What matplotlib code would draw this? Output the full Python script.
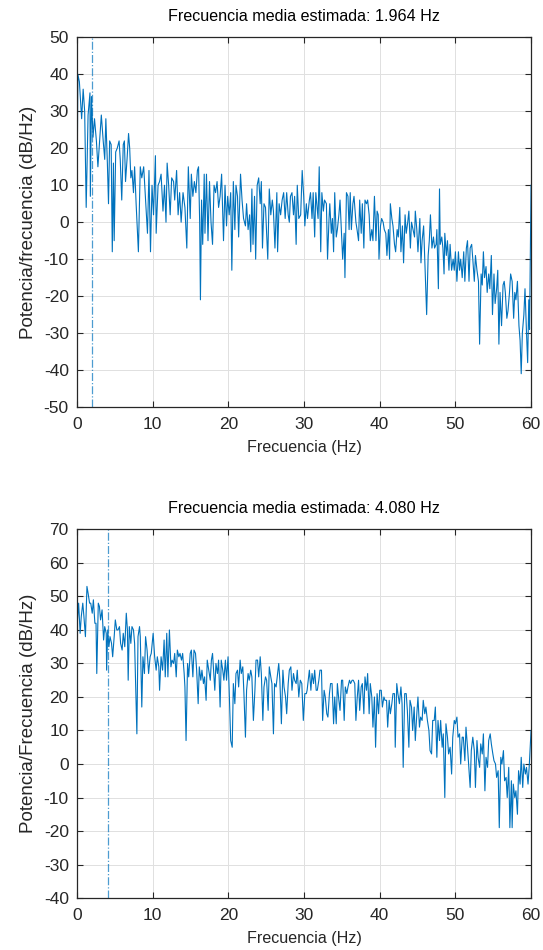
import matplotlib
matplotlib.use("Agg")
import matplotlib.pyplot as plt

# Panel 1: PSD estimada (dB/Hz)
top_freq = [0, 0.1, 0.3, 0.6, 0.8, 1.0, 1.2, 1.45, 1.7, 1.75, 1.9, 2.1, 2.3, 2.55, 2.75,
            3.0, 3.2, 3.45, 3.65, 3.8, 4.0, 4.15, 4.3, 4.5, 4.65, 4.8, 4.9, 5.1, 5.3, 5.55,
            5.7, 5.9, 6.1, 6.25, 6.4, 6.6, 6.8, 6.95, 7.1, 7.25, 7.45, 7.6, 7.8, 8.1, 8.35,
            8.55, 8.8, 9.05, 9.3, 9.5, 9.7, 9.9, 10.1, 10.35, 10.45, 10.7, 10.9, 11.1, 11.35, 11.55,
            11.75, 11.9, 12.1, 12.3, 12.5, 12.75, 12.9, 13.15, 13.35, 13.55, 13.75, 14.0, 14.25,
            14.5, 14.7, 14.95, 15.1, 15.3, 15.5, 15.7, 15.9, 16.05, 16.2, 16.3, 16.45, 16.6, 16.8, 16.9,
            17.1, 17.3, 17.5, 17.7, 17.9, 18.1, 18.3, 18.5, 18.7, 18.9, 19.1, 19.35, 19.55, 19.75, 19.9,
            20.1, 20.3, 20.45, 20.65, 20.85, 21.0, 21.2, 21.35, 21.6, 21.8, 22.0, 22.25, 22.4, 22.6, 22.8,
            22.95, 23.1, 23.25, 23.45, 23.6, 23.8, 24.0, 24.2, 24.35, 24.5, 24.7, 24.9, 25.05, 25.2, 25.4,
            25.6, 25.8, 25.95, 26.15, 26.4, 26.5, 26.7, 26.9, 27.1, 27.3, 27.5, 27.7, 27.9, 28.05, 28.2,
            28.4, 28.6, 28.75, 28.95, 29.1, 29.3,
            29.55, 29.75, 29.95, 30.1, 30.3, 30.45, 30.7, 30.85, 31.05, 31.2, 31.4, 31.55, 31.85, 32.0, 32.2,
            32.35, 32.55, 32.7, 32.95, 33.1, 33.3, 33.4, 33.6, 33.75, 33.9, 34.05, 34.25, 34.4, 34.6, 34.75,
            34.95, 35.1, 35.3, 35.4, 35.6, 35.8, 35.95, 36.1, 36.25, 36.45, 36.6, 36.85, 37.0, 37.2, 37.35,
            37.55, 37.7, 37.9, 38.05, 38.25, 38.4, 38.6, 38.75, 38.95, 39.1, 39.3, 39.5, 39.65, 39.8, 39.9,
            40.1, 40.25, 40.45, 40.6, 40.8, 40.95, 41.15, 41.3, 41.4, 41.6, 41.75, 41.95, 42.1, 42.3, 42.45,
            42.65, 42.8, 43.0, 43.15, 43.35, 43.5, 43.7, 43.85, 44.05, 44.2, 44.4,
            44.6, 44.7, 44.9, 45.05, 45.3, 45.45, 45.6, 45.8, 46.0, 46.2, 46.4, 46.55, 46.7, 46.9, 47.1,
            47.25, 47.45, 47.55, 47.75, 47.9, 48.0, 48.2, 48.35, 48.5, 48.6, 48.8, 48.95, 49.15, 49.3, 49.5,
            49.7, 49.85, 50.0, 50.2, 50.4, 50.55, 50.7, 50.9, 51.1, 51.25, 51.45, 51.6, 51.8, 51.95, 52.15,
            52.3, 52.5, 52.65, 52.85, 53.05, 53.2, 53.4, 53.55, 53.7, 53.85, 54.05, 54.2, 54.4, 54.55, 54.75,
            54.9, 55.1, 55.25, 55.45, 55.6, 55.75, 55.9, 56.1, 56.3, 56.45, 56.6, 56.8, 56.95, 57.15, 57.3,
            57.5, 57.7, 57.85, 58.0, 58.2, 58.4, 58.55, 58.7, 58.85, 59.05, 59.2, 59.4, 59.55, 59.7, 59.8,
            60.0]
top_psd = [10, 40, 38, 28, 36, 30, 4, 29, 35, 7, 34, 23, 28, 22, 15,
           23, 29, 22, 17, 28, 16, 5, 22, 21, -8, 16, -5, 19, 20, 22,
           17, 6, 21, 22, 11, 17, 24, 20, 12, 14, 8, 15, 5, -8, 15,
           12, 15, 6, -3, 14, -8, 10, 2, 18, -3, 10, 11, 13, 3, 10,
           0, 16, 10, 2, 12, 11, 6, 14, 2, 8, 0, 8, 4,
           -7, 15, 1, 13, 7, 11, 8, 14, 15, 0, -21, 6, -6, 13, -3,
           13, -5, 11, 0, -6, 10, 8, 11, 4, 7, 13, -5, 10, -1, 7,
           2, 8, -13, 11, -2, 10, 7, -4, 13, 6, 1, -1, 5, -2, 2,
           -8, 9, -6, 7, -10, 10, 12, 5, 11, -7, 5, 4, -3, -10, 9,
           2, 6, 3, -7, 8, -8, 5, 2, 6, 8, 1, 8, 2, 0, 7,
           8, 2, 7, -6, 10, 1,
           2, 14, 7, -1, 5, 1, 6, 8, 1, 8, -4, 8, 1, 15, -8,
           8, 3, 6, 5, -10, 1, 5, -3, 1, -8, 8, -4, -2, 2, 6,
           -3, -10, -3, -15, 8, 7, -2, 8, -2, 5, 7, 0, -2, -5, 6,
           -3, 5, -7, 6, 5, 6, 2, -5, -2, -5, 7, -5, 3, 2, -10,
           -1, 1, 0, -2, -3, -9, -2, -10, 5, 1, -1, -6, -8, -2, -4,
           4, -8, -1, -11, 2, -3, 0, 3, -7, 0, -2,
           -4, 3, -2, -8, 1, -11, -5, -1, -13, -25, -9, -5, 2, -7, -4,
           -7, -6, -2, -18, 9, -6, -4, -7, -14, -3, -9, -5, -13, -6, -13,
           -10, -13, -8, -16, -8, -13, -10, -15, -8, -16, -7, -5, -16, -7, -6,
           -10, -16, -9, -13, -16, -33, -14, -17, -8, -15, -12, -19, -14, -18, -9,
           -25, -14, -22, -18, -13, -33, -19, -28, -17, -16, -19, -26, -24, -19, -14,
           -16, -26, -19, -21, -16, -28, -32, -41, -30, -25, -18, -30, -38, -21, -29,
           10]

# Panel 2
bot_freq = [0, 0.05, 0.2, 0.4, 0.55, 0.75, 0.9, 1.1, 1.3, 1.45, 1.65, 1.8, 2.0, 2.15, 2.35,
            2.5, 2.6, 2.8, 2.95, 3.1, 3.3, 3.5, 3.65, 3.85, 3.9, 4.05, 4.2, 4.35, 4.55, 4.7,
            4.9, 5.05, 5.25, 5.4, 5.6, 5.75, 5.95, 6.1, 6.3, 6.5, 6.65, 6.75, 6.9, 7.1, 7.25,
            7.45, 7.6, 7.9, 8.05, 8.25, 8.35, 8.55, 8.7, 8.9, 9.05, 9.25, 9.45, 9.65, 9.8, 10.05,
            10.25, 10.45, 10.6, 10.8, 10.9, 11.1, 11.3, 11.5, 11.65, 11.85, 12.0, 12.2, 12.4, 12.55, 12.75,
            12.9, 13.1, 13.25, 13.45, 13.6, 13.8, 13.95, 14.15, 14.25,
            14.4, 14.6, 14.75, 14.95, 15.1, 15.3, 15.45, 15.65, 15.8, 16.0, 16.15, 16.35, 16.5, 16.7, 16.85,
            17.05, 17.2, 17.4, 17.6, 17.75, 17.9, 18.1, 18.2, 18.35, 18.55, 18.7, 18.9, 19.05, 19.25, 19.4,
            19.6, 19.75, 19.95, 20.1, 20.3, 20.5, 20.65, 20.85, 21.0, 21.2, 21.35, 21.55, 21.7, 21.9, 22.05,
            22.25, 22.4, 22.6, 22.75, 22.95, 23.1, 23.3, 23.5, 23.65, 23.85, 24.0, 24.2, 24.35, 24.55, 24.7,
            24.9, 25.05, 25.25, 25.4, 25.6, 25.75, 25.95, 26.1, 26.3, 26.45, 26.65, 26.8, 27.0, 27.2, 27.35,
            27.55, 27.7, 27.9, 28.05, 28.25, 28.4, 28.6, 28.75, 28.95, 29.1, 29.3,
            29.5, 29.7, 29.9, 30.1, 30.3, 30.4, 30.55, 30.7, 30.9, 31.05, 31.25, 31.4, 31.6, 31.75, 31.95,
            32.1, 32.3, 32.45, 32.65, 32.8, 33.0, 33.15, 33.35, 33.5, 33.7, 33.9, 34.05, 34.25, 34.4, 34.6,
            34.75, 34.95, 35.1, 35.3, 35.45, 35.65, 35.8, 36.0, 36.15, 36.35, 36.5, 36.7, 36.85, 37.0, 37.2,
            37.35, 37.55, 37.7, 37.9, 38.05, 38.25, 38.4, 38.6, 38.75, 38.95, 39.1, 39.3, 39.45, 39.65, 39.85,
            40.0, 40.2, 40.35, 40.55, 40.7, 40.9, 41.05, 41.25, 41.4, 41.6, 41.75, 41.95, 42.05, 42.25, 42.4,
            42.6, 42.8, 42.95, 43.1, 43.3, 43.5, 43.65, 43.85, 44.0, 44.2, 44.35,
            44.55, 44.7, 44.9, 45.05, 45.25, 45.4, 45.6, 45.75, 45.95, 46.1, 46.3, 46.5, 46.65, 46.85, 47.0,
            47.2, 47.35, 47.55, 47.7, 47.9, 48.05, 48.25, 48.4, 48.6, 48.75, 48.95, 49.1, 49.3, 49.5, 49.65,
            49.85, 50.0, 50.2, 50.35, 50.55, 50.7, 50.9, 51.05, 51.25, 51.4, 51.6, 51.75, 51.95, 52.1, 52.3,
            52.5, 52.65, 52.85, 53.0, 53.2, 53.35, 53.55, 53.7, 53.9, 54.05, 54.25, 54.4, 54.6, 54.75, 54.95,
            55.1, 55.3, 55.45, 55.65, 55.8, 56.0, 56.15, 56.35, 56.5, 56.7, 56.85, 57.05, 57.2, 57.4, 57.5,
            57.65, 57.85, 58.0, 58.2, 58.35, 58.55, 58.7, 58.9, 59.05, 59.25, 59.4, 59.6, 59.75, 60.0]
bot_psd = [-8, 43, 48, 39, 44, 48, 44, 38, 53, 51, 48, 48, 45, 49, 42,
           42, 27, 48, 47, 43, 46, 37, 41, 39, 28, 40, 35, 38, 36, 32,
           38, 43, 40, 40, 41, 36, 34, 39, 35, 45, 40, 25, 41, 36, 41,
           40, 36, 9, 38, 41, 38, 17, 32, 27, 38, 34, 27, 32, 33, 39,
           32, 28, 32, 29, 22, 32, 28, 37, 26, 39, 26, 40, 29, 31, 30,
           33, 26, 34, 32, 33, 31, 33, 27, 23,
           7, 30, 26, 33, 34, 26, 34, 33, 28, 18, 29, 25, 28, 24, 26,
           19, 31, 28, 25, 31, 33, 26, 22, 30, 27, 31, 17, 31, 28, 25,
           31, 25, 32, 22, 7, 5, 24, 18, 27, 28, 23, 31, 27, 29, 21,
           8, 22, 27, 25, 28, 26, 13, 22, 31, 31, 26, 32, 27, 13, 23,
           26, 25, 16, 29, 26, 24, 9, 24, 23, 26, 30, 25, 12, 28, 23,
           20, 15, 24, 28, 29, 22, 27, 25, 24, 28, 20,
           25, 24, 13, 21, 21, 22, 25, 28, 22, 27, 24, 28, 22, 22, 25,
           28, 28, 13, 22, 20, 15, 14, 21, 24, 24, 12, 20, 12, 24, 19,
           16, 25, 25, 13, 23, 21, 23, 25, 24, 25, 25, 24, 13, 19, 25,
           16, 23, 24, 15, 26, 22, 27, 15, 24, 20, 11, 20, 5, 21, 15,
           22, 22, 17, 20, 19, 19, 11, 19, 15, 18, 21, 21, 5, 24, 21,
           18, 23, 18, -1, 21, 21, 16, 5, 19, 17, 10,
           17, 7, 15, 20, 11, 14, 13, 19, 15, 17, 13, 10, 4, 3, 13,
           13, 17, 2, 13, 7, 13, 5, 9, -10, 12, 8, 3, 5, -3, 8,
           13, 12, 14, 8, 9, 0, 8, 8, 1, 11, 5, 0, -7, 4, 8,
           4, -7, 7, 2, -1, 6, 3, 9, -8, 2, -1, 7, 9, 6, 3,
           1, 0, -4, -2, -19, 2, 0, 4, -5, -4, -10, -1, -19, -5, -19,
           -6, -10, -8, -15, -2, -6, 2, -7, 0, -3, -1, -6, -1, 10]

mean_freqs = [1.964, 4.080]
ylabels = ["Potencia/frecuencia (dB/Hz)", "Potencia/Frecuencia (dB/Hz)"]
ylims = [(-50, 50), (-40, 70)]

LINE = "#0072BD"
DARK = "#262626"

plt.rcParams["font.family"] = ["Liberation Sans", "DejaVu Sans"]
plt.rcParams["axes.unicode_minus"] = False

fig = plt.figure(figsize=(5.43, 9.5), dpi=100)
ax1 = fig.add_axes([0.142, 0.5716, 0.836, 0.389])
ax2 = fig.add_axes([0.142, 0.0547, 0.836, 0.388])

panels = [(ax1, top_freq, top_psd), (ax2, bot_freq, bot_psd)]
for i, (ax, f, p) in enumerate(panels):
    ax.plot(f, p, color=LINE, lw=0.8)
    ax.axvline(mean_freqs[i], color=LINE, lw=0.9, ls="-.", alpha=0.7)
    ax.set_xlim(0, 60)
    ax.set_ylim(*ylims[i])
    ax.set_xticks(range(0, 61, 10))
    ax.set_yticks(range(ylims[i][0], ylims[i][1] + 1, 10))
    ax.grid(True, color="#e0e0e0", lw=0.7)
    ax.set_axisbelow(True)
    ax.tick_params(direction="in", top=True, right=True, length=4, width=0.8,
                   colors=DARK, labelsize=12.5)
    ax.tick_params(axis="x", pad=7)
    ax.tick_params(axis="y", pad=6)
    for s in ax.spines.values():
        s.set_color(DARK)
        s.set_linewidth(0.9)
    ax.set_title(f"Frecuencia media estimada: {mean_freqs[i]:.3f} Hz",
                 fontsize=11.6, color="black", pad=12)
    ax.set_xlabel("Frecuencia (Hz)", fontsize=11.6, color=DARK, labelpad=6)
    ax.set_ylabel(ylabels[i], fontsize=13.5, color=DARK, labelpad=5)

fig.savefig("out.png", dpi=100)
